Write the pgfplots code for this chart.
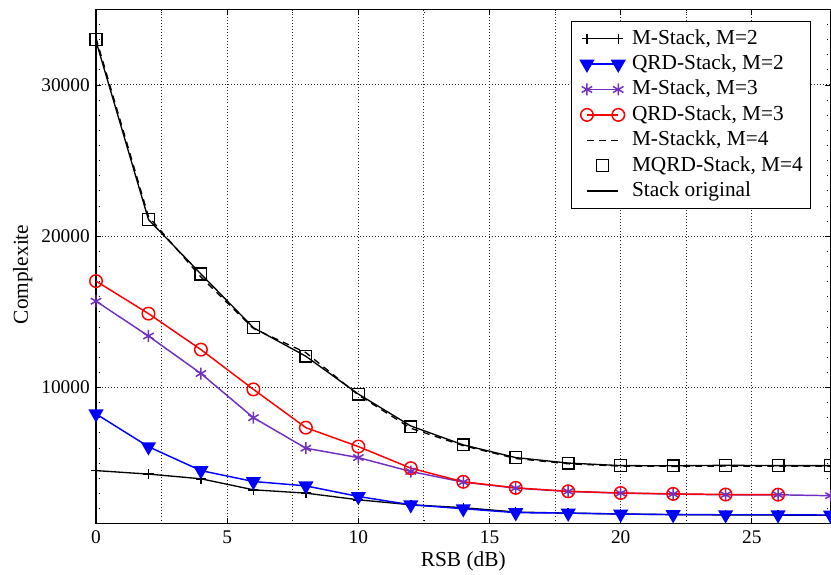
\documentclass[border=0pt]{standalone}
\usepackage{fontspec}
\setmainfont{Liberation Serif}
\usepackage{pgfplots}
\pgfplotsset{compat=1.18}
\definecolor{mpurple}{RGB}{112,48,192}
\begin{document}
\begin{tikzpicture}
\useasboundingbox (-72pt,-37.9pt) rectangle (551.25pt,392.65pt);
\begin{axis}[
  at={(0,0)}, anchor=south west,
  scale only axis, width=550.9pt, height=385.65pt,
  xmin=0, xmax=28, ymin=1000, ymax=35000,
  clip=false,
  xtick={0,5,10,15,20,25},
  minor x tick num=1,
  ytick={10000,20000,30000},
  minor ytick={1000,2000,...,35000},
  xmajorgrids, xminorgrids, ymajorgrids,
  grid style={black!85, line width=0.7pt, dash pattern=on 0.7pt off 1.6pt},
  minor grid style={black!85, line width=0.7pt, dash pattern=on 0.7pt off 1.6pt},
  tick align=inside,
  major tick length=4pt, minor tick length=3pt,
  tick style={black, line width=0.6pt},
  minor tick style={black, line width=0.6pt, dash pattern=on 0.7pt off 1.2pt},
  axis line style={black, line width=1pt},
  scaled y ticks=false,
  /pgf/number format/.cd, set thousands separator={}, assume math mode=true,
  /pgfplots/.cd,
  tick label style={font=\fontsize{14.5}{17}\selectfont},
  xticklabel style={anchor=base, yshift=-15pt},
  yticklabel style={inner xsep=4.5pt},
  label style={font=\fontsize{16}{19}\selectfont},
  xlabel={RSB (dB)},
  xlabel style={at={(rel axis cs:0.5,0)}, anchor=base, yshift=-32.4pt},
  ylabel={Complexite},
  ylabel style={at={(rel axis cs:0,0.5)}, anchor=base, yshift=51pt, xshift=-6pt},
  legend cell align=left,
  legend image code/.code={\path (-5.5pt,0pt) (29pt,0pt); \draw plot coordinates {(0pt,0pt) (23.5pt,0pt)};},
  legend style={at={(rel axis cs:1,1)}, anchor=north east, xshift=-14.85pt, yshift=-8.8pt,
    font=\fontsize{16}{19}\selectfont, draw=black, line width=0.8pt,
    inner xsep=5.5pt, inner ysep=3.3pt, row sep=0pt, column sep=4.25pt,
    nodes={inner xsep=0pt, inner ysep=1.5pt, text height=12.05pt, text depth=4pt}},
]
\addplot[black, line width=1pt, mark=+, mark size=3.8pt, mark options={solid, line width=1.1pt}] coordinates {
(0,4500) (2,4270) (4,3960) (6,3230) (8,3010) (10,2570) (12,2240) (14,2050)
(16,1760) (18,1690) (20,1630) (22,1590) (24,1570) (26,1560) (28,1550)};
\addlegendentry{M-Stack, M=2}
\addplot[blue, line width=1.1pt, mark=triangle*, mark size=5.5pt, mark options={solid, rotate=180, fill=blue}] coordinates {
(0,8250) (2,6080) (4,4500) (6,3780) (8,3490) (10,2790) (12,2240) (14,1980)
(16,1720) (18,1690) (20,1630) (22,1590) (24,1580) (26,1580) (28,1560)};
\addlegendentry{QRD-Stack, M=2}
\addplot[mpurple, line width=1.1pt, mark=asterisk, mark size=4.5pt, mark options={solid}] coordinates {
(0,15700) (2,13400) (4,10920) (6,8000) (8,5980) (10,5360) (12,4440) (14,3740)
(16,3340) (18,3120) (20,3010) (22,2950) (24,2900) (26,2900) (28,2840)};
\addlegendentry{M-Stack, M=3}
\addplot[red, line width=1.1pt, mark=o, mark size=4.7pt, mark options={solid}] coordinates {
(0,17030) (2,14880) (4,12500) (6,9870) (8,7340) (10,6090) (12,4660) (14,3760)
(16,3360) (18,3130) (20,3020) (22,2960) (24,2920) (26,2910)};
\addlegendentry{QRD-Stack, M=3}
\addplot[black, line width=1pt, dash pattern=on 5pt off 4pt] coordinates {
(0,33100) (2,21300) (4,17300) (6,13900) (8,12300) (10,9500) (12,7300) (14,6150)
(16,5300) (18,4950) (20,4800) (22,4780) (24,4800) (26,4790) (28,4790)};
\addlegendentry{M-Stackk, M=4}
\addplot[black, only marks, line width=1pt, mark=square, mark size=4.4pt,
  legend image code/.code={\path (-5.5pt,0pt) (29pt,0pt); \draw plot coordinates {(11.75pt,0pt)};}] coordinates {
(0,33000) (2,21100) (4,17500) (6,13950) (8,12060) (10,9560) (12,7400) (14,6200)
(16,5360) (18,4990) (20,4830) (22,4810) (24,4840) (26,4830) (28,4830)};
\addlegendentry{MQRD-Stack, M=4}
\addplot[black, line width=1pt] coordinates {
(0,32900) (2,21100) (4,17500) (6,13950) (8,12060) (10,9560) (12,7450) (14,6200)
(16,5360) (18,5000) (20,4830) (22,4820) (24,4850) (26,4830) (28,4830)};
\addlegendentry{Stack original}
\end{axis}
\end{tikzpicture}
\end{document}
